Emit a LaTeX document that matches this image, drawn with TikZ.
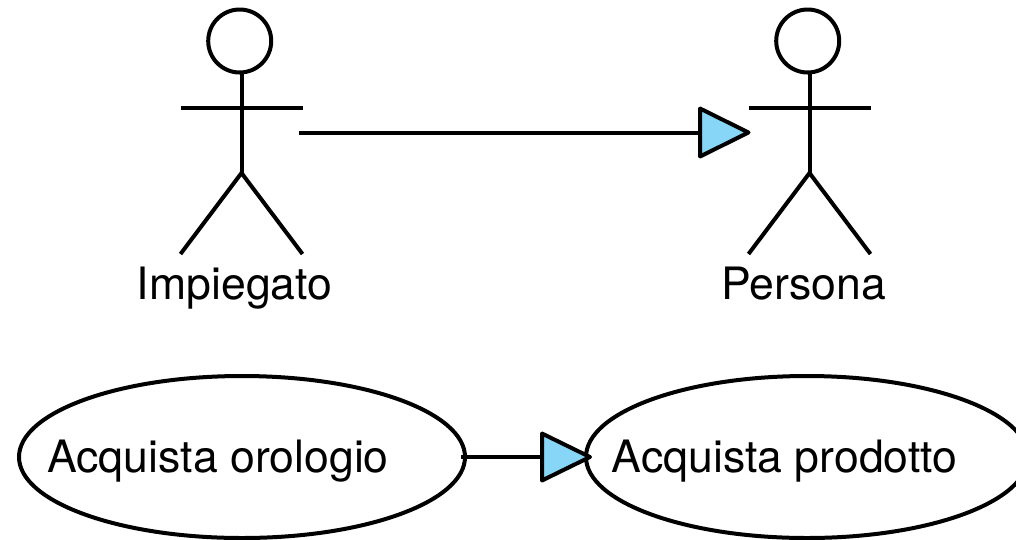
\documentclass[tikz,border=0pt]{standalone}
\usepackage{fontspec}
\setmainfont{TeX Gyre Heros}
\usetikzlibrary{shapes.geometric}
\definecolor{tip}{HTML}{88D6F7}
\tikzset{
  ln/.style={draw=black,line width=4pt},
  lbl/.style={inner sep=0pt,font=\fontsize{44.6}{50}\selectfont,text=black,anchor=base},
  uc/.style={ellipse,draw=black,line width=4pt,inner sep=0pt,outer sep=0pt},
  tri/.style={draw=black,fill=tip,line width=4pt,line join=round}
}
\newcommand{\actor}[2]{%
  \node[circle,draw=black,line width=4pt,minimum size=63pt,inner sep=0pt,outer sep=0pt] (#2h) at (#1-1.8,-41) {};
  \coordinate (#2t) at (#1,-72);
  \coordinate (#2n) at (#1,-173);
  \coordinate (#2a) at (#1-61,-107.5);
  \coordinate (#2b) at (#1+61,-107.5);
  \coordinate (#2l) at (#1-61,-254);
  \coordinate (#2r) at (#1+61,-254);
  \draw[ln] (#2t) -- (#2n);
  \draw[ln] (#2a) -- (#2b);
  \draw[ln,line join=miter] (#2l) -- (#2n) -- (#2r);
}
\begin{document}
\begin{tikzpicture}[x=1pt,y=1pt]
\useasboundingbox (0,0) rectangle (1016,-539);
\actor{241.5}{i}
\actor{809.5}{p}
\node[lbl] (ti) at (234.5,-299) {Impiegato};
\node[lbl] (tp) at (803.5,-299) {Persona};
\node[uc,minimum width=446pt,minimum height=162pt] (u1) at (242,-457) {};
\node[uc,minimum width=442pt,minimum height=162pt] (u2) at (807,-457) {};
\node[lbl] (t1) at (218,-472) {Acquista orologio};
\node[lbl] (t2) at (784.5,-472) {Acquista prodotto};
\coordinate (s1) at (299,-132.5);
\coordinate (e1) at (700,-132.5);
\coordinate (s2) at (461,-457);
\coordinate (e2) at (542,-457);
\draw[ln] (s1) -- (e1);
\draw[ln] (s2) -- (e2);
\draw[tri] (700,-108.5) -- (748.5,-132.5) -- (700,-156.5) -- cycle;
\draw[tri] (542,-433.5) -- (590,-457) -- (542,-480.5) -- cycle;
\end{tikzpicture}
\end{document}
